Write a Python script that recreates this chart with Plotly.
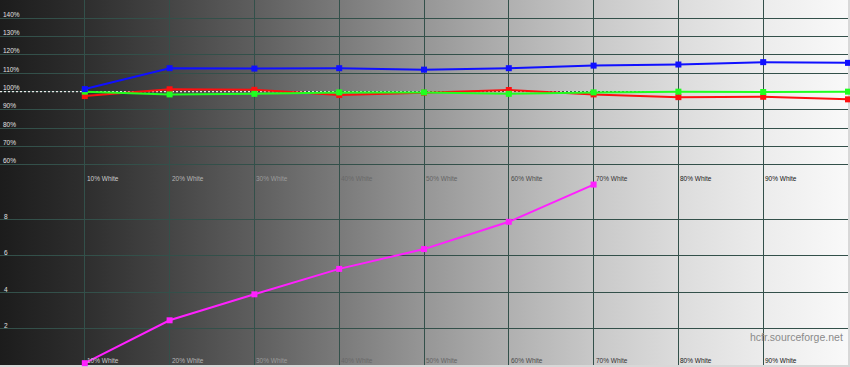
import base64
import plotly.graph_objects as go
from plotly.subplots import make_subplots

# ---------------- data ----------------
levels = [10, 20, 30, 40, 50, 60, 70, 80, 90, 100]
level_labels = ["10% White", "20% White", "30% White", "40% White", "50% White",
                "60% White", "70% White", "80% White", "90% White"]
red_pct = [97.6, 101.3, 101.0, 98.2, 99.4, 100.9, 98.5, 97.0, 97.2, 95.8]
green_pct = [100.0, 98.5, 98.8, 99.6, 99.6, 98.8, 99.6, 100.0, 99.8, 100.0]
blue_pct = [101.4, 112.8, 112.6, 112.8, 112.0, 112.8, 114.2, 114.8, 116.1, 115.7]
delta_e = [0.1, 2.46, 3.89, 5.29, 6.38, 7.88, 9.93, None, None, None]

pct_ticks = [60, 70, 80, 90, 100, 110, 120, 130, 140]
pct_tick_text = ["60%", "70%", "80%", "90%", "100%", "110%", "120%", "130%", "140%"]
de_ticks = [2, 4, 6, 8]
de_tick_text = ["2", "4", "6", "8"]
ref_level = 100

# ---------------- style ----------------
W, H = 850, 367
M = dict(l=0, r=2, t=0, b=2)
grid_col = "#33504a"
font_fam = "Liberation Sans, Arial, sans-serif"
split = (365 - 183.3) / 365

# background gradient stops (fraction, grey level)
stops = [(0.0, 0x1c), (0.1, 0x2e), (0.2, 0x45), (0.3, 0x5e), (0.4, 0x7a),
         (0.5, 0x96), (0.6, 0xb0), (0.7, 0xc8), (0.8, 0xdc), (0.9, 0xec), (1.0, 0xf9)]


def grey_at(f):
    for (f0, g0), (f1, g1) in zip(stops[:-1], stops[1:]):
        if f0 <= f <= f1:
            return g0 + (g1 - g0) * (f - f0) / (f1 - f0)
    return stops[-1][1]


def inv_col(f):
    bg = grey_at(f)
    g = 255 - bg
    if abs(g - bg) < 24:
        g = bg + 24 if g >= bg else bg - 24
    g = int(round(max(0, min(255, g))))
    return f"rgb({g},{g},{g})"


stop_xml = "".join(
    f'<stop offset="{f}" stop-color="rgb({g},{g},{g})"/>' for f, g in stops)
svg = ('<svg xmlns="http://www.w3.org/2000/svg" width="848" height="365" '
       'preserveAspectRatio="none"><defs><linearGradient id="g" x1="0" y1="0" '
       f'x2="1" y2="0">{stop_xml}</linearGradient></defs>'
       '<rect width="848" height="365" fill="url(#g)"/></svg>')
svg_uri = "data:image/svg+xml;base64," + base64.b64encode(svg.encode()).decode()

fig = make_subplots(rows=2, cols=1, shared_xaxes=True, vertical_spacing=0)

# reference dotted line
fig.add_trace(go.Scatter(x=[0, 100], y=[ref_level, ref_level], mode="lines",
                         line=dict(color="#e8e8e8", width=1.2, dash="2px,2px"),
                         hoverinfo="skip"), row=1, col=1)

for vals, col in [(red_pct, "#ff1010"), (green_pct, "#20ff20"), (blue_pct, "#1010ff")]:
    fig.add_trace(go.Scatter(x=levels, y=vals, mode="lines+markers",
                             line=dict(color=col, width=2),
                             marker=dict(symbol="square", size=6, color=col),
                             cliponaxis=False), row=1, col=1)

fig.add_trace(go.Scatter(x=levels, y=delta_e, mode="lines+markers",
                         line=dict(color="#ff20ff", width=2),
                         marker=dict(symbol="square", size=6, color="#ff20ff"),
                         connectgaps=False, cliponaxis=False), row=2, col=1)

axis_common = dict(showgrid=True, gridcolor=grid_col, gridwidth=1, zeroline=False,
                   showline=False, showticklabels=False, ticks="")
fig.update_xaxes(range=[0, 100], tickvals=list(range(0, 101, 10)), **axis_common)
fig.update_yaxes(range=[50, 150], tickvals=pct_ticks + [150], domain=[split, 1],
                 row=1, col=1, **axis_common)
fig.update_yaxes(range=[0, 10], tickvals=de_ticks, domain=[0, split],
                 row=2, col=1, **axis_common)

ann = []
for v, t in zip(pct_ticks, pct_tick_text):
    ann.append(dict(x=0, xref="paper", y=v, yref="y", text=t, showarrow=False,
                    xanchor="left", yanchor="middle", xshift=2, yshift=4, borderpad=0,
                    font=dict(size=6.5, color=inv_col(0.01), family=font_fam)))
for v, t in zip(de_ticks, de_tick_text):
    ann.append(dict(x=0, xref="paper", y=v, yref="y2", text=t, showarrow=False,
                    xanchor="left", yanchor="middle", xshift=3, yshift=3, borderpad=0,
                    font=dict(size=6.5, color=inv_col(0.01), family=font_fam)))
for lv, t in zip(levels, level_labels):
    c = inv_col((lv + 2) / 100)
    ann.append(dict(x=lv, xref="x", y=52.4, yref="y", text=t, showarrow=False,
                    xanchor="left", yanchor="middle", xshift=1, borderpad=0,
                    font=dict(size=6.5, color=c, family=font_fam)))
    ann.append(dict(x=lv, xref="x", y=0.25, yref="y2", text=t, showarrow=False,
                    xanchor="left", yanchor="middle", xshift=1, borderpad=0,
                    font=dict(size=6.5, color=c, family=font_fam)))
ann.append(dict(x=1, xref="paper", y=0.077, yref="paper", text="hcfr.sourceforge.net",
                showarrow=False, xanchor="right", yanchor="middle", xshift=-4,
                borderpad=0, font=dict(size=10.5, color="#8a8a8a", family=font_fam)))

fig.update_layout(
    width=W, height=H, margin=M, showlegend=False, hovermode=False,
    paper_bgcolor="#d8d8d8", plot_bgcolor="rgba(0,0,0,0)",
    images=[dict(source=svg_uri, xref="paper", yref="paper", x=0, y=1,
                 sizex=1, sizey=1, xanchor="left", yanchor="top",
                 sizing="stretch", layer="below")],
    annotations=ann,
)

fig.write_html("out.html")
